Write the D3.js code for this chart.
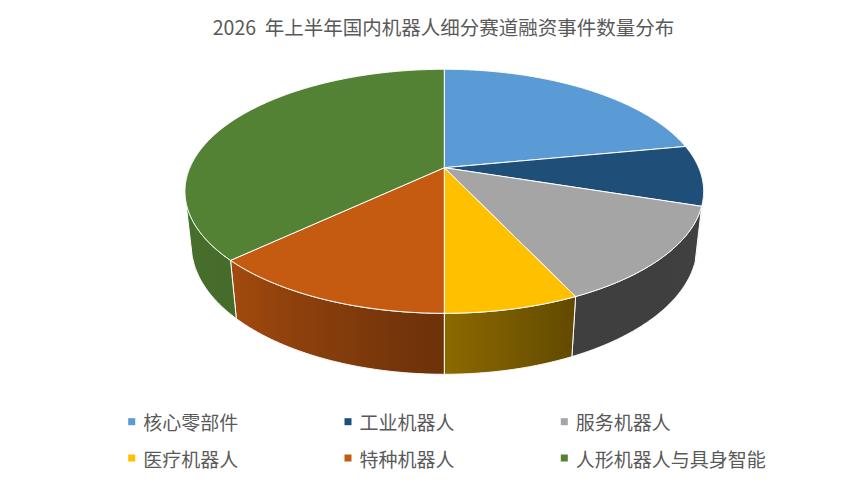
<!DOCTYPE html>
<html>
<head>
<meta charset="utf-8">
<script src="https://cdn.jsdelivr.net/npm/d3@7"></script>
<style>
  body { margin: 0; background: #fff; }
  text { font-family: "Noto Sans CJK SC", "Noto Sans", sans-serif; }
</style>
</head>
<body>
<div id="chart"></div>
<script>
// data (share of events, sums to 100)
const categories = ["核心零部件", "工业机器人", "服务机器人", "医疗机器人", "特种机器人", "人形机器人与具身智能"];
const values = [22, 8, 13, 7, 13, 37];
const title = "2026 年上半年国内机器人细分赛道融资事件数量分布";

const colors = ["#5B9BD5", "#1F4E79", "#A5A5A5", "#FFC000", "#C55A11", "#548235"];

const width = 865;
const height = 482;

const svg = d3.select("#chart")
    .append("svg")
    .attr("width", width)
    .attr("height", height);

const defs = svg.append("defs");

const colorScale = d3.scaleOrdinal()
    .domain(categories)
    .range(colors);

// perspective camera for the tilted pie
const cx = 444.3, cy = 167.7;
const tilt = 27.49 * Math.PI / 180;
const cosT = Math.cos(tilt), sinT = Math.sin(tilt);
const D = 4.586;      // camera distance (pie radius = 1)
const F = 1166.8;     // focal length in px
const H = 0.24;       // pie thickness

function project(a, r, h) {
    const x = r * Math.sin(a);
    const z = r * Math.cos(a);
    const Y = h * cosT + z * sinT;
    const depth = D + z * cosT - h * sinT;
    return [cx + F * x / depth, cy - F * Y / depth];
}

// outer wall is visible where cos(a) < -1/(D cos t)
const visLo = Math.acos(-1 / (D * cosT));
const visHi = 2 * Math.PI - visLo;

// side shading by angle (light from the left)
const light = d3.scaleLinear()
    .domain([104, 155, 180, 227, 256])
    .range([0.39, 0.38, 0.55, 0.83, 0.86])
    .clamp(true);

function shade(color, k) {
    const c = d3.rgb(color);
    return d3.rgb(c.r * k, c.g * k, c.b * k).formatHex();
}

function samples(a0, a1) {
    const n = Math.max(2, Math.ceil(Math.abs(a1 - a0) / (0.4 * Math.PI / 180)));
    return d3.range(n + 1).map(i => a0 + (a1 - a0) * i / n);
}

const pie = d3.pie()
    .sort(null)
    .value(d => d.value)
    .startAngle(0)
    .endAngle(2 * Math.PI);

const arcs = pie(categories.map((c, i) => ({ name: c, value: values[i] })));

const line = d3.line().curve(d3.curveLinearClosed);

// walls
const walls = svg.append("g");
arcs.forEach((d, i) => {
    const lo = Math.max(d.startAngle, visLo);
    const hi = Math.min(d.endAngle, visHi);
    if (lo >= hi) return;

    const top = samples(lo, hi).map(a => project(a, 1, 0));
    const bottom = samples(hi, lo).map(a => project(a, 1, -H));

    const x1 = project(lo, 1, 0)[0];
    const x2 = project(hi, 1, 0)[0];
    const grad = defs.append("linearGradient")
        .attr("id", "wall" + i)
        .attr("gradientUnits", "userSpaceOnUse")
        .attr("x1", x1).attr("x2", x2)
        .attr("y1", 0).attr("y2", 0);
    samples(lo, hi).filter((a, j, arr) => j % Math.max(1, Math.floor(arr.length / 8)) === 0 || j === arr.length - 1)
        .forEach(a => {
            const x = project(a, 1, 0)[0];
            grad.append("stop")
                .attr("offset", (x - x1) / (x2 - x1))
                .attr("stop-color", shade(colorScale(d.data.name), light(a * 180 / Math.PI)));
        });

    walls.append("path")
        .attr("d", line(top.concat(bottom)))
        .attr("fill", `url(#wall${i})`)
        .attr("stroke", "#fff")
        .attr("stroke-width", 1)
        .attr("stroke-linejoin", "round");
});

// top faces
svg.append("g")
    .selectAll("path")
    .data(arcs)
    .enter()
    .append("path")
    .attr("d", d => line([project(0, 0, 0)].concat(samples(d.startAngle, d.endAngle).map(a => project(a, 1, 0)))))
    .attr("fill", d => colorScale(d.data.name))
    .attr("stroke", "#fff")
    .attr("stroke-width", 1)
    .attr("stroke-linejoin", "round");

// title
svg.append("text")
    .attr("x", 443.5)
    .attr("y", 26)
    .attr("text-anchor", "middle")
    .attr("dominant-baseline", "central")
    .style("font-size", "19.5px")
    .style("white-space", "pre")
    .style("fill", "#595959")
    .text(title.replace(" ", "  "));

// legend
const legend = svg.append("g");
categories.forEach((category, i) => {
    const col = i % 3;
    const row = Math.floor(i / 3);
    const x = 131.7 + col * 216.3;
    const y = 421.7 + row * 36.3;

    legend.append("rect")
        .attr("x", x - 3.5)
        .attr("y", y - 3.5)
        .attr("width", 7)
        .attr("height", 7)
        .attr("fill", colorScale(category));

    legend.append("text")
        .attr("x", x + 11.5)
        .attr("y", y)
        .attr("dominant-baseline", "central")
        .style("font-size", "19px")
        .style("fill", "#595959")
        .text(category);
});
</script>
</body>
</html>
